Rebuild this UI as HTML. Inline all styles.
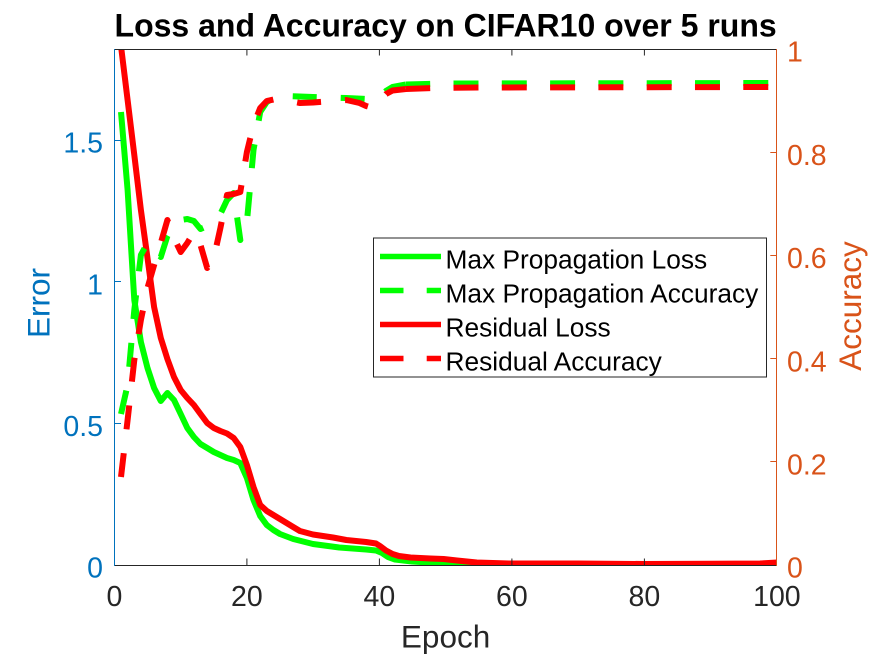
<!DOCTYPE html>
<html><head><meta charset="utf-8"><style>
html,body{margin:0;padding:0;background:#fff;}
svg{display:block;}
text{font-family:"Liberation Sans",Arial,sans-serif;}
</style></head><body>
<svg width="875" height="656" viewBox="0 0 875 656" xmlns="http://www.w3.org/2000/svg">
<defs><clipPath id="ax"><rect x="114.4" y="49" width="662.5" height="516"/></clipPath></defs>
<rect width="875" height="656" fill="#fff"/>

<g clip-path="url(#ax)" fill="none" stroke-linejoin="round">
<!-- green loss -->
<polyline stroke="#00ff00" stroke-width="6" points="121,112 127.6,190 134.3,300 140.9,342 147.5,368 154.1,388 160.8,401 167.4,393 174,400 180.7,414 187.3,428 193.9,437 200.5,444 207.2,448 213.8,452 220.4,455 227,458 233.7,460 240.3,463 246.9,478 253.5,500 260.2,516 266.8,525 273.4,530 280,534 293.2,539 313,544 339.3,547.5 366.1,549.5 376,550.5 382,553 388,557 395,559.5 412,561.5 446,563.5 479,564.5 512,565 777,565"/>
<!-- red loss -->
<polyline stroke="#ff0000" stroke-width="6" points="120.5,42 127.6,100 134.3,155 140.9,210 147.5,258 154.1,307 160.8,338 167.4,359 174,377 180.7,390 187.3,398 193.9,405 200.5,414 207.2,423 213.8,428 220.4,431 227,433.5 233.7,438 240.3,447 246.9,465 253.5,487 260.2,505 266.8,511 273.4,515 280,519 293.2,527 299.9,531 313,534.5 333,537.5 346.3,540 366.1,542 376,543.5 380,546 386,550.5 392.6,554 399,556 410.5,557.5 430.4,558.5 443.6,559 457,560.5 476.8,562.5 510,563.5 578,563.5 644,564 710,563.8 760,563.5 776.9,562.5"/>
<!-- green accuracy -->
<polyline stroke="#00ff00" stroke-width="6" stroke-dasharray="24 24" points="121,414 127.6,385 134.3,310 140.9,255 147.5,243 154.1,251 160.8,257 167.4,236 174,224 180.7,220 187.3,219 193.9,221 200.5,229 207.2,226 213.8,220 220.4,214 227,200 233.7,193 240.3,240 246.9,222 253.5,150 260.2,112 266.8,102 273.4,98 286.6,96 313,97 346.3,98 366.1,99 372.8,101 379.4,97 386,91 392.6,87 405.9,84.5"/>
<polyline stroke="#00ff00" stroke-width="6" stroke-dasharray="25 23.3" stroke-dashoffset="0.7" points="405.9,84.5 445.6,83.5 776.9,83"/>
<!-- red accuracy -->
<polyline stroke="#ff0000" stroke-width="6" stroke-dasharray="24 24" points="121,477 127.6,420 134.3,360 140.9,320 147.5,288 154.1,265 160.8,243 167.4,220 174,238 180.7,252 187.3,243 193.9,232 200.5,245 207.2,268 213.8,258 220.4,228 227,195 233.7,194 240.3,192 246.9,152 253.5,125 260.2,108 266.8,101 273.4,99.5 286.6,100.5 299.9,103 313,102.5 326.4,101.5 346.3,100 359.5,103 366.1,106 372.8,108 379.4,101 386,94 392.6,90.5 405.9,89"/>
<polyline stroke="#ff0000" stroke-width="6" stroke-dasharray="25 23.3" stroke-dashoffset="0.7" points="405.9,89 432.4,88 478.8,87.5 776.9,87"/>
</g>

<!-- axes box -->
<g stroke-width="1" fill="none">
<line x1="114.4" y1="565.5" x2="776.9" y2="565.5" stroke="#262626"/>
<line x1="114.4" y1="49.5" x2="776.9" y2="49.5" stroke="#262626"/>
<line x1="114.5" y1="49" x2="114.5" y2="566" stroke="#0072bd"/>
<line x1="776.5" y1="49" x2="776.5" y2="566" stroke="#d95319"/>
<!-- x ticks -->
<g stroke="#262626">
<line x1="246.9" y1="565" x2="246.9" y2="558.5"/><line x1="379.4" y1="565" x2="379.4" y2="558.5"/>
<line x1="511.9" y1="565" x2="511.9" y2="558.5"/><line x1="644.4" y1="565" x2="644.4" y2="558.5"/>
<line x1="246.9" y1="49" x2="246.9" y2="55.5"/><line x1="379.4" y1="49" x2="379.4" y2="55.5"/>
<line x1="511.9" y1="49" x2="511.9" y2="55.5"/><line x1="644.4" y1="49" x2="644.4" y2="55.5"/>
</g>
<g stroke="#0072bd">
<line x1="114.4" y1="423.5" x2="121" y2="423.5"/><line x1="114.4" y1="281.5" x2="121" y2="281.5"/>
<line x1="114.4" y1="140.5" x2="121" y2="140.5"/>
</g>
<g stroke="#d95319">
<line x1="776.9" y1="461.5" x2="770.3" y2="461.5"/><line x1="776.9" y1="358.5" x2="770.3" y2="358.5"/>
<line x1="776.9" y1="255.5" x2="770.3" y2="255.5"/><line x1="776.9" y1="152.5" x2="770.3" y2="152.5"/>
</g>
</g>

<!-- tick labels -->
<g font-size="28.5" fill="#262626" text-anchor="middle">
<text x="114.4" y="606">0</text><text x="246.9" y="606">20</text><text x="379.4" y="606">40</text>
<text x="511.9" y="606">60</text><text x="644.4" y="606">80</text><text x="776.9" y="606">100</text>
</g>
<g font-size="28.5" fill="#0072bd" text-anchor="end">
<text x="103" y="577.7">0</text><text x="103" y="436">0.5</text><text x="103" y="294.4">1</text><text x="103" y="152.7">1.5</text>
</g>
<g font-size="28.5" fill="#d95319" text-anchor="start">
<text x="787" y="577.7">0</text><text x="787" y="474.5">0.2</text><text x="787" y="371.3">0.4</text>
<text x="787" y="268.1">0.6</text><text x="787" y="164.9">0.8</text><text x="787" y="61.7">1</text>
</g>

<!-- axis labels -->
<text x="445.6" y="647.5" font-size="31.5" fill="#262626" text-anchor="middle">Epoch</text>
<text transform="translate(49.5,303) rotate(-90)" font-size="31.5" fill="#0072bd" text-anchor="middle">Error</text>
<text transform="translate(861,306) rotate(-90)" font-size="31.5" fill="#d95319" text-anchor="middle">Accuracy</text>

<!-- title -->
<text x="445.6" y="36.7" font-size="32" font-weight="bold" fill="#000" text-anchor="middle">Loss and Accuracy on CIFAR10 over 5 runs</text>

<!-- legend -->
<rect x="373.5" y="238" width="393" height="139" fill="#fff" stroke="#262626" stroke-width="1"/>
<g stroke-width="5.5">
<line x1="380" y1="256.5" x2="441" y2="256.5" stroke="#00ff00"/>
<line x1="380" y1="290.5" x2="403.5" y2="290.5" stroke="#00ff00"/>
<line x1="426.7" y1="290.5" x2="441" y2="290.5" stroke="#00ff00"/>
<line x1="380" y1="324.5" x2="441" y2="324.5" stroke="#ff0000"/>
<line x1="380" y1="358.5" x2="403.5" y2="358.5" stroke="#ff0000"/>
<line x1="426.7" y1="358.5" x2="441" y2="358.5" stroke="#ff0000"/>
</g>
<g font-size="26.3" fill="#000">
<text x="445.5" y="268.5">Max Propagation Loss</text>
<text x="445.5" y="302.5">Max Propagation Accuracy</text>
<text x="445.5" y="336.5">Residual Loss</text>
<text x="445.5" y="370.5">Residual Accuracy</text>
</g>
</svg>
</body></html>
